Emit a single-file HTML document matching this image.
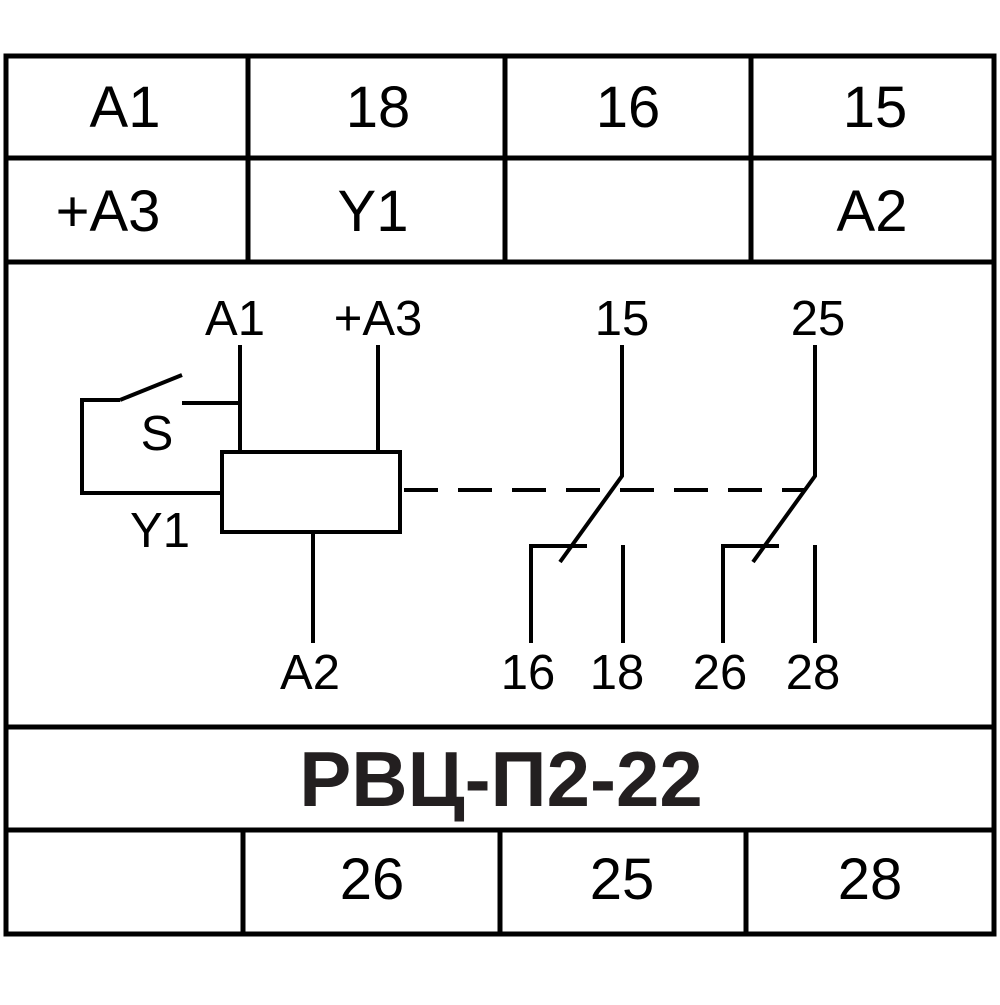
<!DOCTYPE html>
<html><head><style>html,body{margin:0;padding:0;background:#fff}</style></head>
<body>
<svg width="1000" height="1000" viewBox="0 0 1000 1000" xmlns="http://www.w3.org/2000/svg">
<rect width="1000" height="1000" fill="#fff"/>
<g stroke="#000" stroke-width="5" fill="none">
<rect x="6" y="56" width="988" height="878"/>
<line x1="6" y1="158" x2="994" y2="158"/>
<line x1="6" y1="262" x2="994" y2="262"/>
<line x1="6" y1="727" x2="994" y2="727"/>
<line x1="6" y1="830" x2="994" y2="830"/>
<line x1="248" y1="56" x2="248" y2="262"/>
<line x1="505" y1="56" x2="505" y2="262"/>
<line x1="751" y1="56" x2="751" y2="262"/>
<line x1="243" y1="830" x2="243" y2="934"/>
<line x1="500" y1="830" x2="500" y2="934"/>
<line x1="746" y1="830" x2="746" y2="934"/>
</g>
<g stroke="#000" stroke-width="4" fill="none" stroke-linecap="butt">
<line x1="240" y1="345" x2="240" y2="452"/>
<line x1="378" y1="345" x2="378" y2="452"/>
<rect x="222" y="452" width="178" height="80"/>
<polyline points="120,400 82,400 82,493 222,493"/>
<line x1="120" y1="400" x2="182" y2="375"/>
<line x1="182" y1="403" x2="240" y2="403"/>
<line x1="313" y1="532" x2="313" y2="643"/>
<line x1="402" y1="490" x2="805" y2="490" stroke-dasharray="34 20" stroke-dashoffset="-2"/>
<polyline points="622,345 622,476 560,562"/>
<polyline points="587,546 531,546 531,643"/>
<line x1="623" y1="545" x2="623" y2="643"/>
<polyline points="815,345 815,476 753,562"/>
<polyline points="779,546 723,546 723,643"/>
<line x1="815" y1="545" x2="815" y2="643"/>
</g>
<g font-family="Liberation Sans, Arial, sans-serif" fill="#000" text-anchor="middle">
<g font-size="58">
<text x="125" y="127">A1</text>
<text x="378" y="127">18</text>
<text x="628" y="127">16</text>
<text x="875" y="127">15</text>
<text x="108" y="231">+A3</text>
<text x="373" y="231">Y1</text>
<text x="872" y="231">A2</text>
<text x="372" y="899">26</text>
<text x="622" y="899">25</text>
<text x="870" y="899">28</text>
</g>
<g font-size="49">
<text x="235" y="335">A1</text>
<text x="378" y="335">+A3</text>
<text x="622" y="335">15</text>
<text x="818" y="335">25</text>
<text x="157" y="450">S</text>
<text x="160" y="547">Y1</text>
<text x="310" y="689">A2</text>
<text x="528" y="689">16</text>
<text x="617" y="689">18</text>
<text x="720" y="689">26</text>
<text x="813" y="689">28</text>
</g>
<text x="501" y="806" font-size="78" font-weight="bold" fill="#231f20">РВЦ-П2-22</text>
</g>
</svg>
</body></html>
